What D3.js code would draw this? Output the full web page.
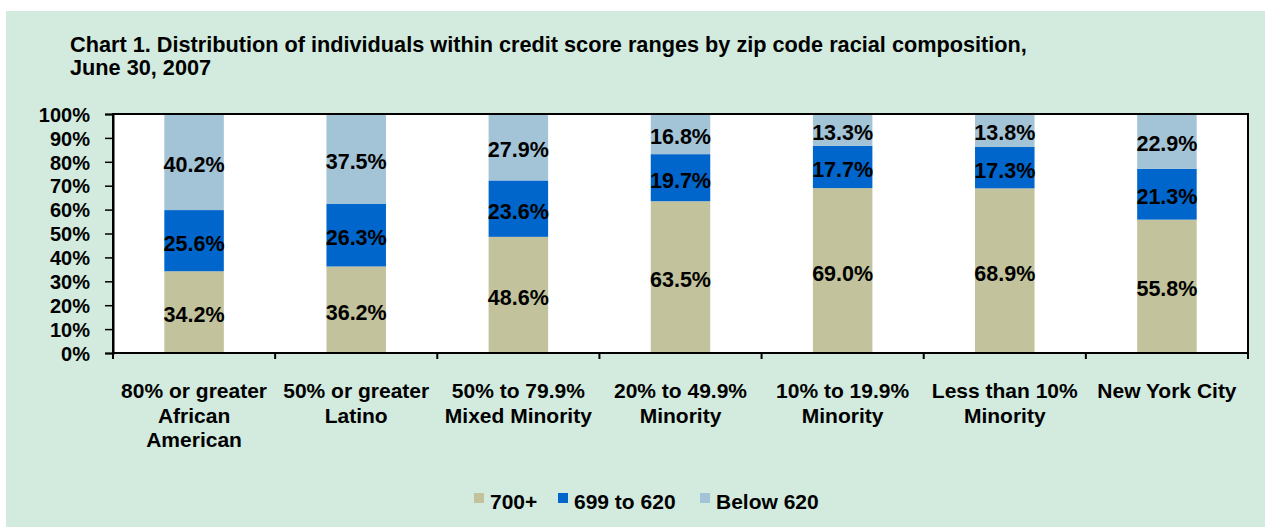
<!DOCTYPE html>
<html>
<head>
<meta charset="utf-8">
<script src="https://cdn.jsdelivr.net/npm/d3@7"></script>
<style>
  body { margin: 0; background: #fff; }
  svg text { font-family: "Liberation Sans", Arial, sans-serif; font-weight: bold; fill: #000; }
</style>
</head>
<body>
<div id="chart"></div>
<script>
// chart data
var categories = [
  ["80% or greater", "African", "American"],
  ["50% or greater", "Latino"],
  ["50% to 79.9%", "Mixed Minority"],
  ["20% to 49.9%", "Minority"],
  ["10% to 19.9%", "Minority"],
  ["Less than 10%", "Minority"],
  ["New York City"]
];
var series = ["700+", "699 to 620", "Below 620"];
var s700 = [34.2, 36.2, 48.6, 63.5, 69.0, 68.9, 55.8];
var s620 = [25.6, 26.3, 23.6, 19.7, 17.7, 17.3, 21.3];
var below620 = [40.2, 37.5, 27.9, 16.8, 13.3, 13.8, 22.9];
var yTicks = [0, 10, 20, 30, 40, 50, 60, 70, 80, 90, 100];
var titleLines = ["Chart 1. Distribution of individuals within credit score ranges by zip code racial composition,", "June 30, 2007"];

var width = 1265, height = 527;
var colors = ["#c2c39c", "#0066cc", "#a3c3d6"];

var svg = d3.select("#chart").append("svg")
    .attr("width", width)
    .attr("height", height);

svg.append("rect")
    .attr("x", 6).attr("y", 11)
    .attr("width", width - 6).attr("height", height - 11)
    .attr("fill", "#d2ebde");

svg.selectAll(".title")
    .data(titleLines)
    .enter().append("text")
    .attr("class", "title")
    .attr("x", 70)
    .attr("y", function(d, i) { return 52 + i * 23; })
    .style("font-size", "21.7px")
    .text(function(d) { return d; });

var plot = {left: 113, top: 114, right: 1248, bottom: 353};

var x = d3.scaleBand()
    .domain(d3.range(categories.length))
    .range([plot.left, plot.right])
    .paddingInner(0)
    .paddingOuter(0);

var y = d3.scaleLinear()
    .domain([0, 100])
    .range([plot.bottom, plot.top]);

svg.append("rect")
    .attr("x", plot.left).attr("y", plot.top)
    .attr("width", plot.right - plot.left).attr("height", plot.bottom - plot.top)
    .attr("fill", "#fff");

// stacked data
var rows = categories.map(function(c, i) {
  return {i: i, "700+": s700[i], "699 to 620": s620[i], "Below 620": below620[i]};
});
var stack = d3.stack().keys(series)(rows);

var barW = x.bandwidth() * 0.367;

var layer = svg.selectAll(".layer")
    .data(stack)
    .enter().append("g")
    .attr("class", "layer")
    .attr("fill", function(d, i) { return colors[i]; });

layer.selectAll("rect")
    .data(function(d) { return d; })
    .enter().append("rect")
    .attr("x", function(d) { return x(d.data.i) + (x.bandwidth() - barW) / 2; })
    .attr("y", function(d) { return y(d[1]); })
    .attr("width", barW)
    .attr("height", function(d) { return y(d[0]) - y(d[1]); });

layer.selectAll("text")
    .data(function(d) { return d; })
    .enter().append("text")
    .attr("x", function(d) { return x(d.data.i) + x.bandwidth() / 2; })
    .attr("y", function(d) { return (y(d[0]) + y(d[1])) / 2 + 10; })
    .attr("text-anchor", "middle")
    .style("font-size", "21.5px")
    .text(function(d) { return (d[1] - d[0]).toFixed(1) + "%"; });

// frame
svg.append("rect")
    .attr("x", plot.left).attr("y", plot.top)
    .attr("width", plot.right - plot.left).attr("height", plot.bottom - plot.top)
    .attr("fill", "none")
    .attr("stroke", "#000")
    .attr("stroke-width", 2);

// y axis
var yAxis = svg.append("g")
    .attr("transform", "translate(" + plot.left + ",0)")
    .call(d3.axisLeft(y).tickValues(yTicks).tickSize(8).tickPadding(15)
        .tickFormat(function(d) { return d + "%"; }));
yAxis.select(".domain").attr("stroke", "#000").attr("stroke-width", 2);
yAxis.selectAll(".tick line").attr("stroke", "#000").attr("stroke-width", 1.5);
yAxis.selectAll(".tick text")
    .attr("dy", "0.36em")
    .style("font-size", "20px")
    .style("font-family", "Liberation Sans, Arial, sans-serif");

// x axis ticks at category boundaries
var bounds = d3.range(categories.length + 1).map(function(i) {
  return i < categories.length ? x(i) : plot.right;
});
svg.selectAll(".xtick")
    .data(bounds)
    .enter().append("line")
    .attr("x1", function(d) { return d; })
    .attr("x2", function(d) { return d; })
    .attr("y1", plot.bottom)
    .attr("y2", plot.bottom + 6)
    .attr("stroke", "#000")
    .attr("stroke-width", 2);

var catLabels = svg.selectAll(".cat")
    .data(categories)
    .enter().append("text")
    .attr("class", "cat")
    .attr("text-anchor", "middle")
    .style("font-size", "21px");
catLabels.selectAll("tspan")
    .data(function(d, i) { return d.map(function(s) { return {s: s, i: i}; }); })
    .enter().append("tspan")
    .attr("x", function(d) { return x(d.i) + x.bandwidth() / 2; })
    .attr("y", function(d, j) { return 398 + j * 24.5; })
    .text(function(d) { return d.s; });

// legend
var legendX = [474, 558, 700];
var legend = svg.selectAll(".legend")
    .data(series)
    .enter().append("g")
    .attr("class", "legend")
    .attr("transform", function(d, i) { return "translate(" + legendX[i] + ",493)"; });
legend.append("rect")
    .attr("width", 10).attr("height", 10)
    .attr("fill", function(d, i) { return colors[i]; });
legend.append("text")
    .attr("x", 16).attr("y", 16)
    .style("font-size", "21px")
    .text(function(d) { return d; });
</script>
</body>
</html>
